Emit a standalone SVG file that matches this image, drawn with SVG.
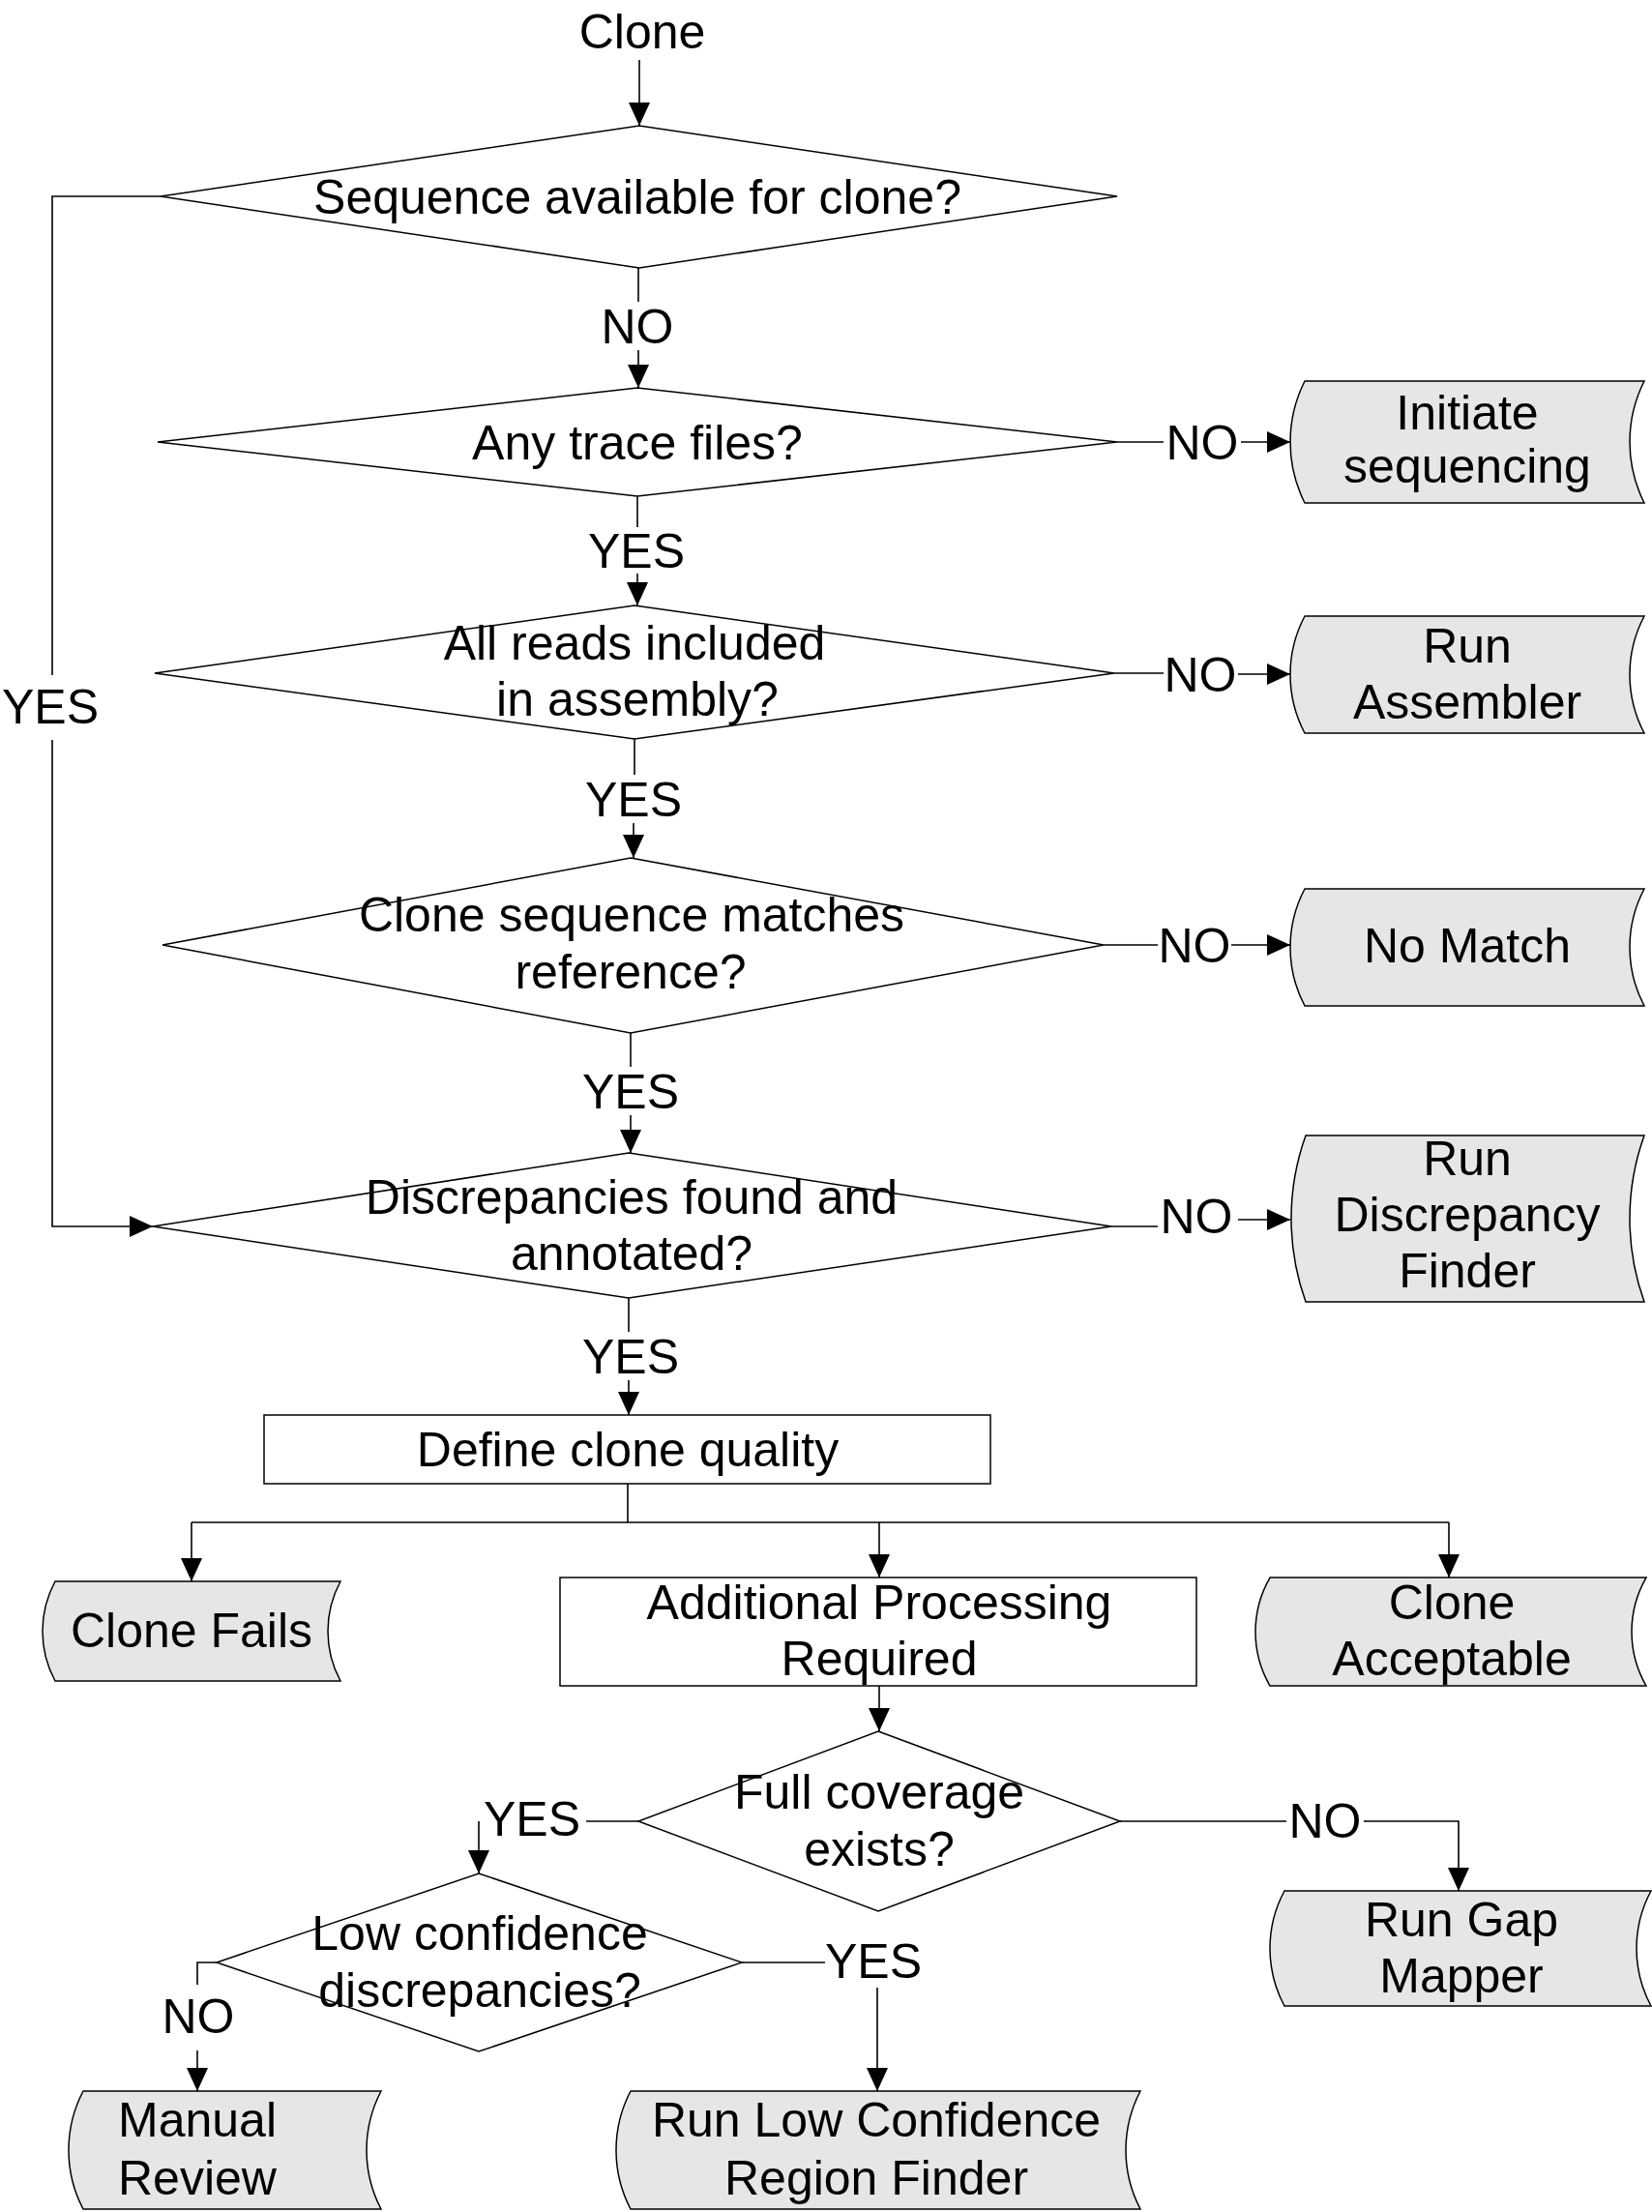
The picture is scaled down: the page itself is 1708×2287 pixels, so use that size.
<svg xmlns="http://www.w3.org/2000/svg" width="1708" height="2287" viewBox="0 0 1708 2287">
<style>
text{font-family:"Liberation Sans",Arial,sans-serif;font-size:50px;fill:#000;text-anchor:middle}
.d{fill:#fff;stroke:#000;stroke-width:1.5}
.s{fill:#e6e6e6;stroke:#000;stroke-width:1.5}
.r{fill:#fff;stroke:#000;stroke-width:1.5}
.c{fill:none;stroke:#000;stroke-width:1.6}
.a{marker-end:url(#ah)}
</style>
<defs>
<marker id="ah" markerUnits="userSpaceOnUse" markerWidth="24" markerHeight="22" refX="24" refY="11" orient="auto">
<path d="M0,0 L24,11 L0,22 Z" fill="#000"/>
</marker>
</defs>
<rect width="1708" height="2287" fill="#fff"/>
<g id="connectors">
<line class="c a" x1="661" y1="62" x2="661" y2="130"/>
<line class="c" x1="660" y1="277" x2="660" y2="312"/>
<line class="c a" x1="660" y1="362" x2="660" y2="401"/>
<line class="c" x1="1155" y1="457" x2="1203" y2="457"/>
<line class="c a" x1="1283" y1="457" x2="1334" y2="457"/>
<line class="c" x1="659" y1="513" x2="659" y2="545"/>
<line class="c a" x1="659" y1="593" x2="659" y2="626"/>
<line class="c" x1="1152" y1="696" x2="1203" y2="696"/>
<line class="c a" x1="1280" y1="697" x2="1334" y2="697"/>
<line class="c" x1="656" y1="764" x2="656" y2="801"/>
<line class="c a" x1="655" y1="851" x2="655" y2="887"/>
<line class="c" x1="1141" y1="977" x2="1197" y2="977"/>
<line class="c a" x1="1273" y1="977" x2="1334" y2="977"/>
<line class="c" x1="652" y1="1068" x2="652" y2="1103"/>
<line class="c a" x1="652" y1="1153" x2="652" y2="1192"/>
<line class="c" x1="1149" y1="1268" x2="1197" y2="1268"/>
<line class="c a" x1="1280" y1="1261" x2="1334" y2="1261"/>
<line class="c" x1="650" y1="1342" x2="650" y2="1377"/>
<line class="c a" x1="650" y1="1427" x2="650" y2="1463"/>
<polyline class="c" points="166,203 54,203 54,698"/>
<polyline class="c a" points="54,765 54,1268 158,1268"/>
<line class="c" x1="649" y1="1534" x2="649" y2="1574"/>
<line class="c" x1="198" y1="1574" x2="1498" y2="1574"/>
<line class="c a" x1="198" y1="1574" x2="198" y2="1635"/>
<line class="c a" x1="909" y1="1574" x2="909" y2="1631"/>
<line class="c a" x1="1498" y1="1574" x2="1498" y2="1631"/>
<line class="c a" x1="909" y1="1743" x2="909" y2="1790"/>
<line class="c" x1="660" y1="1883" x2="606" y2="1883"/>
<line class="c a" x1="495" y1="1883" x2="495" y2="1937"/>
<line class="c" x1="1158" y1="1883" x2="1330" y2="1883"/>
<polyline class="c a" points="1410,1883 1508,1883 1508,1955"/>
<line class="c" x1="767" y1="2029" x2="853" y2="2029"/>
<line class="c a" x1="907" y1="2055" x2="907" y2="2162"/>
<polyline class="c" points="224,2029 204,2029 204,2052"/>
<line class="c a" x1="204" y1="2120" x2="204" y2="2162"/>
</g>
<g id="labels">
<text x="664" y="50">Clone</text>
<text x="659" y="355">NO</text>
<text x="1243" y="475">NO</text>
<text x="658" y="587">YES</text>
<text x="1241" y="715">NO</text>
<text x="655" y="844">YES</text>
<text x="1235" y="995">NO</text>
<text x="652" y="1146">YES</text>
<text x="1237" y="1275">NO</text>
<text x="652" y="1420">YES</text>
<text x="52" y="748">YES</text>
<text x="550" y="1898">YES</text>
<text x="1370" y="1900">NO</text>
<text x="903" y="2045">YES</text>
<text x="205" y="2102">NO</text>
</g>
<g id="d1">
<polygon class="d" points="661,130 1155,203 661,277 166,203"/>
<text x="659" y="221">Sequence available for clone?</text>
</g>
<g id="d2">
<polygon class="d" points="659,401 1155,457 659,513 163,457"/>
<text x="659" y="475">Any trace files?</text>
</g>
<g id="initiate">
<path class="s" d="M1349,394 L1700,394 A140,140 0 0 0 1700,520 L1349,520 A140,140 0 0 1 1349,394 Z"/>
<text x="1517" y="444">Initiate</text>
<text x="1517" y="499">sequencing</text>
</g>
<g id="d3">
<polygon class="d" points="656,626 1152,696 656,764 160,696"/>
<text x="656" y="682">All reads included</text>
<text x="659" y="740">in assembly?</text>
</g>
<g id="assembler">
<path class="s" d="M1349,637 L1700,637 A129.5,129.5 0 0 0 1700,758 L1349,758 A129.5,129.5 0 0 1 1349,637 Z"/>
<text x="1517" y="685">Run</text>
<text x="1517" y="743">Assembler</text>
</g>
<g id="d4">
<polygon class="d" points="652,887 1141,977 652,1068 168,977"/>
<text x="653" y="963">Clone sequence matches</text>
<text x="652" y="1022">reference?</text>
</g>
<g id="nomatch">
<path class="s" d="M1349,919 L1700,919 A129.5,129.5 0 0 0 1700,1040 L1349,1040 A129.5,129.5 0 0 1 1349,919 Z"/>
<text x="1517" y="995">No Match</text>
</g>
<g id="d5">
<polygon class="d" points="650,1192 1149,1268 650,1342 158,1268"/>
<text x="653" y="1255">Discrepancies found and</text>
<text x="653" y="1313">annotated?</text>
</g>
<g id="discfinder">
<path class="s" d="M1350,1174 L1700,1174 A254,254 0 0 0 1700,1346 L1350,1346 A254,254 0 0 1 1350,1174 Z"/>
<text x="1517" y="1215">Run</text>
<text x="1517" y="1273">Discrepancy</text>
<text x="1517" y="1331">Finder</text>
</g>
<g id="define">
<rect class="r" x="273" y="1463" width="751" height="71"/>
<text x="649" y="1516">Define clone quality</text>
</g>
<g id="fails">
<path class="s" d="M57,1635 L352,1635 A108.5,108.5 0 0 0 352,1738 L57,1738 A108.5,108.5 0 0 1 57,1635 Z"/>
<text x="198" y="1703">Clone Fails</text>
</g>
<g id="additional">
<rect class="r" x="579" y="1631" width="658" height="112"/>
<text x="909" y="1674">Additional Processing</text>
<text x="909" y="1732">Required</text>
</g>
<g id="acceptable">
<path class="s" d="M1313,1631 L1702,1631 A112,112 0 0 0 1702,1743 L1313,1743 A112,112 0 0 1 1313,1631 Z"/>
<text x="1501" y="1674">Clone</text>
<text x="1501" y="1732">Acceptable</text>
</g>
<g id="d6">
<polygon class="d" points="908,1790 1158,1883 908,1976 660,1883"/>
<text x="909" y="1870">Full coverage</text>
<text x="909" y="1929">exists?</text>
</g>
<g id="gapmapper">
<path class="s" d="M1328,1955 L1707,1955 A125.5,125.5 0 0 0 1707,2074 L1328,2074 A125.5,125.5 0 0 1 1328,1955 Z"/>
<text x="1511" y="2002">Run Gap</text>
<text x="1511" y="2060">Mapper</text>
</g>
<g id="d7">
<polygon class="d" points="495,1937 767,2029 495,2121 224,2029"/>
<text x="496" y="2016">Low confidence</text>
<text x="496" y="2075">discrepancies?</text>
</g>
<g id="manual">
<path class="s" d="M86,2162 L394,2162 A131.5,131.5 0 0 0 394,2284 L86,2284 A131.5,131.5 0 0 1 86,2162 Z"/>
<text x="204" y="2209">Manual</text>
<text x="204" y="2269">Review</text>
</g>
<g id="lowconf">
<path class="s" d="M652,2162 L1179,2162 A131.5,131.5 0 0 0 1179,2284 L652,2284 A131.5,131.5 0 0 1 652,2162 Z"/>
<text x="906" y="2209">Run Low Confidence</text>
<text x="906" y="2269">Region Finder</text>
</g>
</svg>
